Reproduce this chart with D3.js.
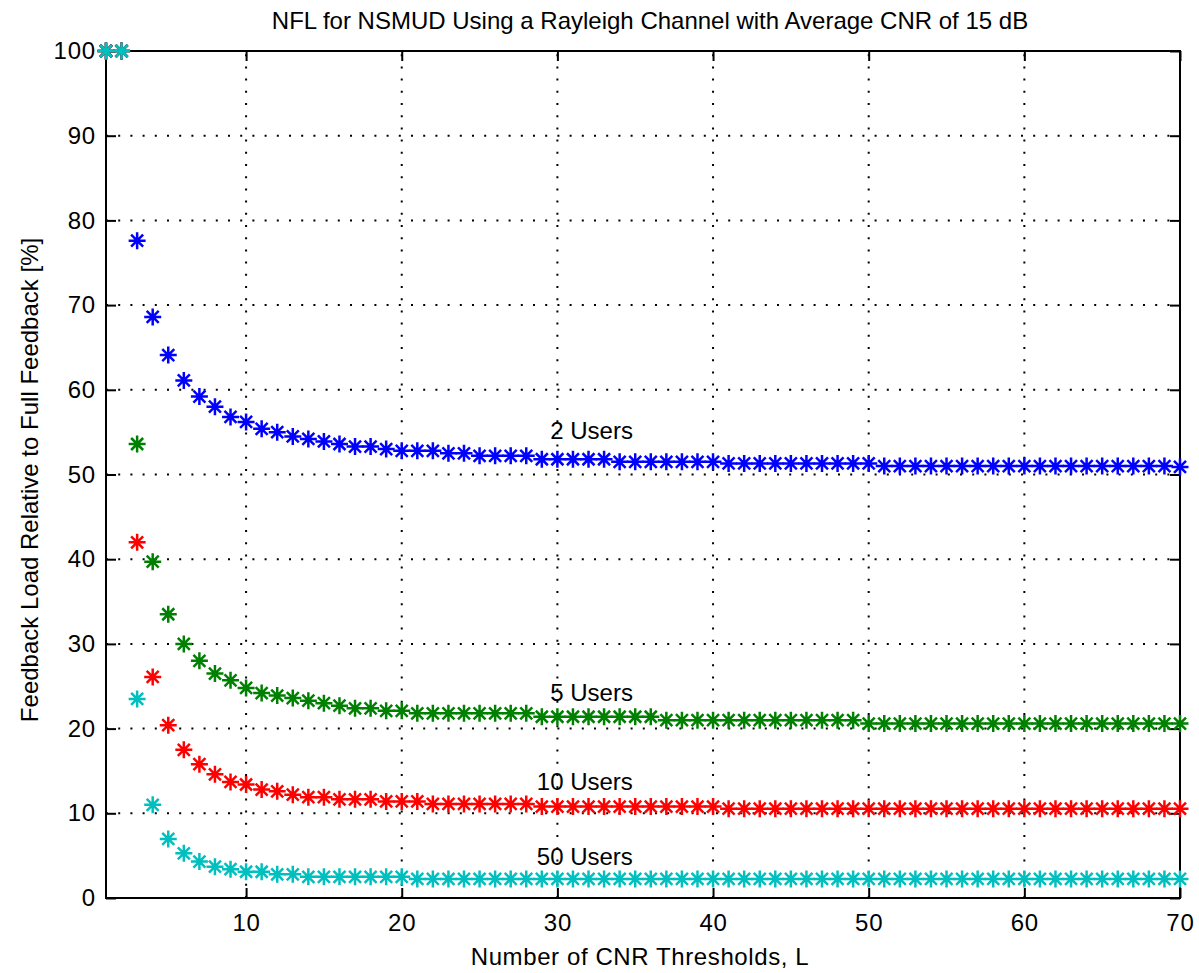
<!DOCTYPE html>
<html>
<head>
<meta charset="utf-8">
<script src="https://cdn.jsdelivr.net/npm/d3@7"></script>
<style>
  html, body { margin: 0; padding: 0; background: #fff; }
  svg { display: block; }
  text { font-family: "Liberation Sans", Arial, Helvetica, sans-serif; fill: #000; }
</style>
</head>
<body>
<svg id="chart" width="1199" height="973"></svg>
<script>
// ---- data ----
const thresholds = [1,2,3,4,5,6,7,8,9,10,11,12,13,14,15,16,17,18,19,20,
  21,22,23,24,25,26,27,28,29,30,31,32,33,34,35,36,37,38,39,40,
  41,42,43,44,45,46,47,48,49,50,51,52,53,54,55,56,57,58,59,60,
  61,62,63,64,65,66,67,68,69,70];

const users2 = [100,100,77.6,68.6,64.1,61.1,59.2,58.0,56.8,56.2,
  55.4,55.0,54.5,54.2,53.9,53.6,53.3,53.3,53.0,52.8,
  52.8,52.8,52.5,52.5,52.2,52.2,52.2,52.2,51.8,51.8,
  51.8,51.8,51.8,51.5,51.5,51.5,51.5,51.5,51.5,51.5,
  51.3,51.3,51.3,51.3,51.3,51.3,51.3,51.3,51.3,51.3,
  51.0,51.0,51.0,51.0,51.0,51.0,51.0,51.0,51.0,51.0,
  51.0,51.0,51.0,51.0,51.0,51.0,51.0,51.0,51.0,50.9];

const users5 = [100,100,53.6,39.7,33.5,30.0,28.0,26.5,25.7,24.8,
  24.2,23.9,23.6,23.3,23.0,22.7,22.4,22.4,22.1,22.1,
  21.8,21.8,21.8,21.8,21.8,21.8,21.8,21.8,21.4,21.4,
  21.4,21.4,21.4,21.4,21.4,21.4,21.0,21.0,21.0,21.0,
  21.0,21.0,21.0,21.0,21.0,21.0,21.0,21.0,21.0,20.6,
  20.6,20.6,20.6,20.6,20.6,20.6,20.6,20.6,20.6,20.6,
  20.6,20.6,20.6,20.6,20.6,20.6,20.6,20.6,20.6,20.6];

const users10 = [100,100,42.0,26.1,20.4,17.5,15.8,14.6,13.7,13.4,
  12.8,12.6,12.2,11.9,11.9,11.65,11.65,11.65,11.4,11.4,
  11.4,11.1,11.1,11.1,11.1,11.1,11.1,11.1,10.8,10.8,
  10.8,10.8,10.8,10.8,10.8,10.8,10.8,10.8,10.8,10.8,
  10.55,10.55,10.55,10.55,10.55,10.55,10.55,10.55,10.55,10.55,
  10.55,10.55,10.55,10.55,10.55,10.55,10.55,10.55,10.55,10.55,
  10.55,10.55,10.55,10.55,10.55,10.55,10.55,10.55,10.55,10.55];

const users50 = [100,100,23.5,11.0,6.97,5.27,4.3,3.7,3.4,3.1,
  3.1,2.8,2.8,2.5,2.5,2.5,2.5,2.5,2.5,2.5,
  2.25,2.25,2.25,2.25,2.25,2.25,2.25,2.25,2.25,2.25,
  2.25,2.25,2.25,2.25,2.25,2.25,2.25,2.25,2.25,2.25,
  2.25,2.25,2.25,2.25,2.25,2.25,2.25,2.25,2.25,2.25,
  2.25,2.25,2.25,2.25,2.25,2.25,2.25,2.25,2.25,2.25,
  2.25,2.25,2.25,2.25,2.25,2.25,2.25,2.25,2.25,2.25];

const seriesNames = ["2 Users", "5 Users", "10 Users", "50 Users"];
const seriesValues = [users2, users5, users10, users50];
const seriesColors = ["#0000ff", "#008000", "#ff0000", "#00bfbf"];

// curve labels (data coordinates: right edge x, baseline y)
const labelX = [34.85, 34.85, 34.85, 34.85];
const labelY = [54.2, 23.3, 12.75, 3.9];

const xTicks = [10,20,30,40,50,60,70];
const yTicks = [0,10,20,30,40,50,60,70,80,90,100];

const titleText = "NFL for NSMUD Using a Rayleigh Channel with Average CNR of 15 dB";
const xLabelText = "Number of CNR Thresholds, L";
const yLabelText = "Feedback Load Relative to Full Feedback [%]";

// ---- layout ----
const L = 106, R = 1180, T = 51, B = 898;
const FS = 24;

const svg = d3.select("#chart");
const x = d3.scaleLinear().domain([1, 70]).range([L, R]);
const y = d3.scaleLinear().domain([0, 100]).range([B, T]);

// grid
const grid = svg.append("g").attr("stroke", "#000").attr("stroke-width", 2)
  .attr("stroke-dasharray", "2 10.2");
grid.selectAll("line.gx").data(xTicks.filter(d => d > 1 && d < 70)).join("line")
  .attr("x1", d => x(d)).attr("x2", d => x(d)).attr("y1", B).attr("y2", T);
grid.selectAll("line.gy").data(yTicks.filter(d => d > 0 && d < 100)).join("line")
  .attr("x1", L).attr("x2", R).attr("y1", d => y(d)).attr("y2", d => y(d));

// axes
function styleAxis(g, showLabels) {
  g.select(".domain").remove();
  g.selectAll(".tick line").attr("stroke", "#000").attr("stroke-width", 2);
  g.selectAll(".tick text").attr("font-size", FS).attr("fill", "#000")
    .attr("font-family", '"Liberation Sans", Arial, Helvetica, sans-serif')
    .attr("letter-spacing", 0.8);
  if (!showLabels) g.selectAll(".tick text").remove();
}
svg.append("g").attr("transform", `translate(0,${B})`)
  .call(d3.axisBottom(x).tickValues(xTicks).tickSize(-10).tickPadding(16))
  .call(g => styleAxis(g, true));
svg.append("g").attr("transform", `translate(0,${T})`)
  .call(d3.axisTop(x).tickValues(xTicks).tickSize(-10))
  .call(g => styleAxis(g, false));
svg.append("g").attr("transform", `translate(${L},0)`)
  .call(d3.axisLeft(y).tickValues(yTicks).tickSize(-10).tickPadding(10))
  .call(g => styleAxis(g, true));
svg.append("g").attr("transform", `translate(${R},0)`)
  .call(d3.axisRight(y).tickValues(yTicks).tickSize(-10))
  .call(g => styleAxis(g, false));

// box
svg.append("rect").attr("x", L).attr("y", T).attr("width", R - L).attr("height", B - T)
  .attr("fill", "none").attr("stroke", "#000").attr("stroke-width", 2);

// markers
const star = "M-8.5,0H8.5M0,-8.5V8.5M-6,-6L6,6M-6,6L6,-6";
seriesValues.forEach((vals, i) => {
  const pts = thresholds.map((t, j) => [t, vals[j]]);
  svg.append("g").attr("stroke", seriesColors[i]).attr("stroke-width", 2.5).attr("fill", "none")
    .selectAll("path").data(pts).join("path")
    .attr("transform", d => `translate(${x(d[0])},${y(d[1])})`)
    .attr("d", star);
});

// curve labels
svg.append("g").selectAll("text").data(seriesNames).join("text")
  .attr("x", (d, i) => x(labelX[i])).attr("y", (d, i) => y(labelY[i]))
  .attr("text-anchor", "end").attr("font-size", FS).text(d => d);

// title & axis labels
svg.append("text").attr("x", 650).attr("y", 29).attr("text-anchor", "middle")
  .attr("font-size", FS).text(titleText);
svg.append("text").attr("x", 640).attr("y", 965).attr("text-anchor", "middle")
  .attr("font-size", FS).attr("letter-spacing", 0.6).text(xLabelText);
svg.append("text").attr("transform", "translate(38,480) rotate(-90)")
  .attr("text-anchor", "middle").attr("font-size", FS).text(yLabelText);
</script>
</body>
</html>
